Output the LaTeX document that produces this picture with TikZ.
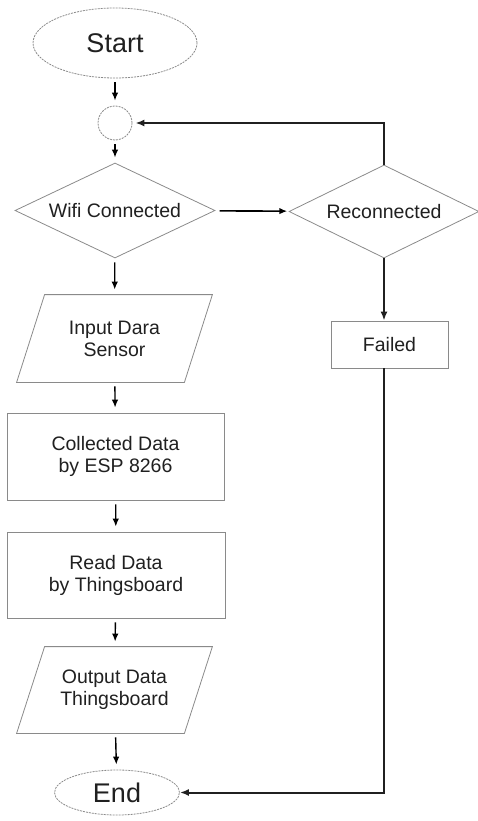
\documentclass[tikz,border=0pt]{standalone}
\usepackage{fontspec}
\setmainfont{Liberation Sans}
\usepackage{tikz}
\usepackage{xcolor}
\usetikzlibrary{shapes.geometric}
\usetikzlibrary{arrows.meta}

\definecolor{edgegray}{HTML}{8A8A8A}
\definecolor{inkblack}{HTML}{202020}

\tikzset{
    box/.style = {draw=edgegray, line width=0.8pt, text=inkblack, align=center, inner sep=0pt,
        font=\fontsize{19.5}{22}\selectfont},
    terminal/.style = {box, ellipse, dashed, dash pattern=on 2pt off 1pt},
    decision/.style = {box, diamond, aspect=2.1},
    process/.style = {box, rectangle},
    io/.style = {box, rectangle, draw=none},
    slantline/.style = {draw=edgegray, line width=0.8pt},
    arr/.style = {-{Latex[length=8pt,width=6.5pt]}, line width=1.4pt, draw=black,
        shorten <=4pt, shorten >=5pt},
    heavy/.style = {-{Latex[length=9pt,width=7pt]}, line width=2pt, draw=inkblack}
}

\begin{document}
\begin{tikzpicture}[x=1pt, y=-1pt]
\useasboundingbox (0,0) rectangle (477,821);

    \node[terminal, minimum width=164pt, minimum height=70pt,
        font=\fontsize{27}{30}\selectfont] (start) at (115, 43) {Start};
    \node[box, circle, dashed, dash pattern=on 2pt off 1pt, minimum size=34pt] (join) at (115, 123) {};
    \node[decision, minimum width=200pt, minimum height=95pt] (wifi) at (115, 210.5) {Wifi Connected};
    \node[decision, minimum width=190pt, minimum height=93pt] (recon) at (384, 211.5) {Reconnected};

    \node[io, minimum width=195pt, minimum height=87pt] (input) at (114.5, 338.5) {Input Dara\\Sensor};
    \node[process, minimum width=217pt, minimum height=87pt] (collect) at (115.5, 456.5) {Collected Data\\by ESP 8266};
    \node[process, minimum width=218pt, minimum height=86pt] (read) at (116, 575) {Read Data\\by Thingsboard};
    \node[io, minimum width=195pt, minimum height=86pt] (output) at (114.5, 690) {Output Data\\Thingsboard};
    \node[terminal, minimum width=125pt, minimum height=45pt,
        font=\fontsize{27}{30}\selectfont] (stop) at (117, 792.5) {End};

    \node[process, minimum width=117pt, minimum height=47pt] (failed) at (389.5, 344.5) {Failed};

    % parallelogram outlines
    \draw[slantline] ([xshift=28pt]input.north west) -- (input.north east)
        -- ([xshift=-28pt]input.south east) -- (input.south west) -- cycle;
    \draw[slantline] ([xshift=28pt]output.north west) -- (output.north east)
        -- ([xshift=-28pt]output.south east) -- (output.south west) -- cycle;

    % main flow
    \draw[arr] (start) -- (join);
    \draw[arr] (join) -- (wifi);
    \draw[arr] (wifi) -- (input);
    \draw[arr] (input) -- (collect);
    \draw[arr] (collect) -- (read);
    \draw[arr] (read) -- (output);
    \draw[arr] (output) -- (stop);

    % retry branch
    \draw[arr, line width=1.6pt, shorten <=5pt, shorten >=2pt] (wifi) -- (recon);
    \draw[heavy, shorten >=3pt] (recon.north) |- (join.east);
    \draw[heavy] (recon.south) -- (recon.south |- failed.north);
    \draw[heavy] (recon.south |- failed.south) |- (stop.east);

\end{tikzpicture}
\end{document}
